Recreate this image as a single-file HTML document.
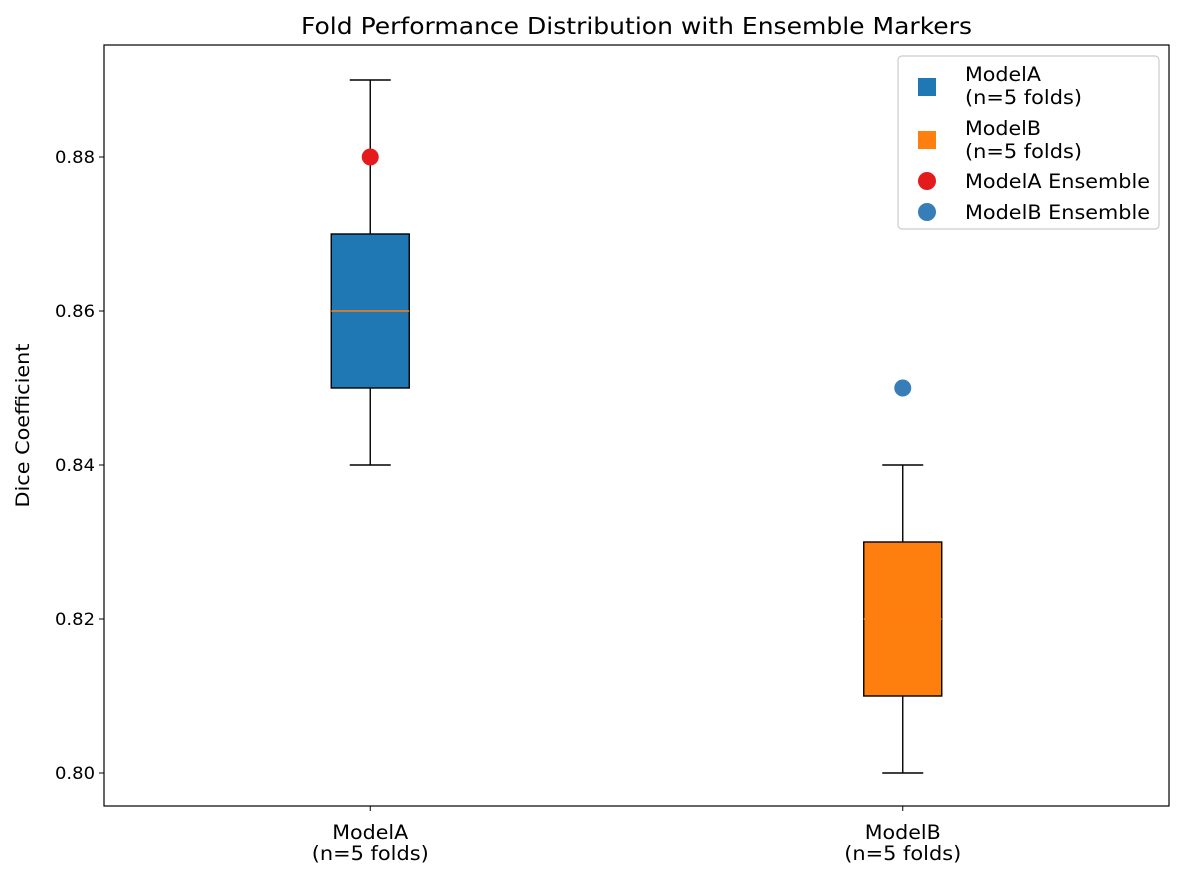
<!DOCTYPE html>
<html><head><meta charset="utf-8"><style>body{margin:0;background:#fff}svg text{font-family:"DejaVu Sans","Liberation Sans",sans-serif}</style></head>
<body>
<svg id="chart" width="1184" height="880" xmlns="http://www.w3.org/2000/svg">
<rect width="1184" height="880" fill="#fff"/>
<g id="plot"></g>
</svg>
<script>
const categories = ["ModelA\n(n=5 folds)", "ModelB\n(n=5 folds)"];
const whiskerLow = [0.84, 0.80];
const q1 = [0.85, 0.81];
const median = [0.86, 0.82];
const q3 = [0.87, 0.83];
const whiskerHigh = [0.89, 0.84];
const ensemble = [0.88, 0.85];
const boxColors = ["#1f77b4", "#ff7f0e"];
const ensColors = ["#e41a1c", "#377eb8"];
const yTicks = [0.80, 0.82, 0.84, 0.86, 0.88];

const L=104,R=1169,T=45,B=806;
const yMin=0.795714,yMax=0.894545;
const y=v=>B-(v-yMin)/(yMax-yMin)*(B-T);
const x=i=>L+((i+1)-0.5)/2*(R-L);
const g=document.getElementById('plot');
const NS="http://www.w3.org/2000/svg";
function mk(tag,attrs,parent){const e=document.createElementNS(NS,tag);for(const k in attrs)e.setAttribute(k,attrs[k]);(parent||g).appendChild(e);return e;}
const bw=39, cw=20.5;
categories.forEach((c,i)=>{
  const cx=x(i);
  const grp=mk('g',{});
  
  
  mk('line',{x1:cx,x2:cx,y1:y(whiskerLow[i]),y2:y(q1[i]),stroke:'#000','stroke-width':1.4},grp);
  mk('line',{x1:cx,x2:cx,y1:y(q3[i]),y2:y(whiskerHigh[i]),stroke:'#000','stroke-width':1.4},grp);
  mk('line',{x1:cx-cw,x2:cx+cw,y1:y(whiskerLow[i]),y2:y(whiskerLow[i]),stroke:'#000','stroke-width':1.4},grp);
  mk('line',{x1:cx-cw,x2:cx+cw,y1:y(whiskerHigh[i]),y2:y(whiskerHigh[i]),stroke:'#000','stroke-width':1.4},grp);
  mk('rect',{x:cx-bw,y:y(q3[i]),width:2*bw,height:y(q1[i])-y(q3[i]),fill:boxColors[i],stroke:'#000','stroke-width':1.4},grp);
  mk('line',{x1:cx-bw,x2:cx+bw,y1:y(median[i]),y2:y(median[i]),stroke:'#ff7f0e','stroke-width':1.4},grp);
  const e=mk('circle',{cx:cx,cy:y(ensemble[i]),r:8.5,fill:ensColors[i]});
  
  
  const lines=c.split('\n');
  mk('line',{x1:cx,x2:cx,y1:B,y2:B+5,stroke:'#000','stroke-width':1});
  const widths=[76,117];
  lines.forEach((ln,j)=>{const t=mk('text',{x:cx,y:B+33+j*21,'text-anchor':'middle','font-size':19.5,textLength:widths[j],lengthAdjust:'spacingAndGlyphs'});t.textContent=ln;
    });
});
yTicks.forEach(v=>{
  mk('line',{x1:L-5,x2:L,y1:y(v),y2:y(v),stroke:'#000','stroke-width':1});
  const t=mk('text',{x:L-9,y:y(v)+6,'text-anchor':'end','font-size':17,textLength:40,lengthAdjust:'spacingAndGlyphs'});t.textContent=v.toFixed(2);
  
});
const fr=mk('rect',{x:L,y:T,width:R-L,height:B-T,fill:'none',stroke:'#000','stroke-width':1.2});

let t=mk('text',{x:(L+R)/2,y:34,'text-anchor':'middle','font-size':23,textLength:671,lengthAdjust:'spacingAndGlyphs'});t.textContent='Fold Performance Distribution with Ensemble Markers';

t=mk('text',{x:29,y:(T+B)/2,'text-anchor':'middle','font-size':19,textLength:164,lengthAdjust:'spacingAndGlyphs',transform:'rotate(-90 29 '+(T+B)/2+')'});t.textContent='Dice Coefficient';

const lg=mk('g',{});

mk('rect',{x:898,y:56,width:261,height:173,rx:4,fill:'#fff',stroke:'#ccc','stroke-width':1.2},lg);
mk('rect',{x:918,y:78,width:18,height:18,fill:'#1f77b4'},lg);
mk('rect',{x:918,y:131,width:18,height:18,fill:'#ff7f0e'},lg);
mk('circle',{cx:927,cy:181,r:9,fill:'#e41a1c'},lg);
mk('circle',{cx:927,cy:212,r:9,fill:'#377eb8'},lg);
[["ModelA",81,76],["(n=5 folds)",104,117],["ModelB",135,76],["(n=5 folds)",158,117],["ModelA Ensemble",188,185],["ModelB Ensemble",219,185]].forEach(([s,yy,w])=>{
  const e=mk('text',{x:965,y:yy,'font-size':19.5,textLength:w,lengthAdjust:'spacingAndGlyphs'},lg);e.textContent=s;
  
});
</script>
</body></html>
